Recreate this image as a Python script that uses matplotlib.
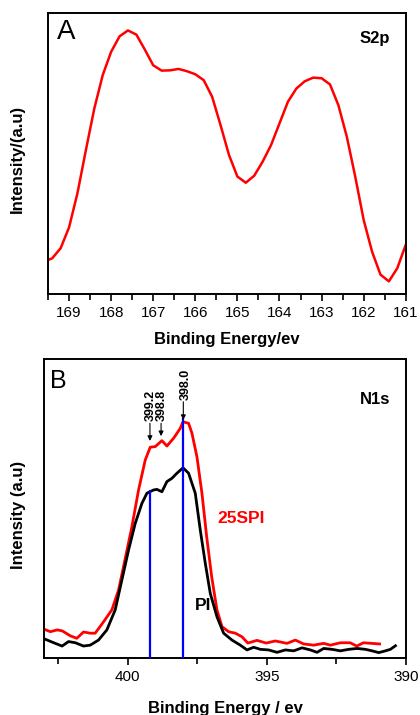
import matplotlib
matplotlib.use("Agg")
import matplotlib.pyplot as plt
from matplotlib.ticker import MultipleLocator

plt.rcParams['font.family'] = ['Liberation Sans', 'DejaVu Sans']

# ---- S2p spectrum ----
s2p_be = [169.6, 169.4, 169.2, 169.0, 168.8, 168.6, 168.4, 168.2, 168.0, 167.8,
          167.6, 167.4, 167.2, 167.0, 166.8, 166.6, 166.4, 166.2, 166.0, 165.8,
          165.6, 165.4, 165.2, 165.0, 164.8, 164.6, 164.4, 164.2, 164.0, 163.8,
          163.6, 163.4, 163.2, 163.0, 162.8, 162.6, 162.4, 162.2, 162.0, 161.8,
          161.6, 161.4, 161.2, 161.0]
s2p_int = [11.5, 12.7, 16.3, 23.7, 35.9, 51.2, 66.0, 77.9, 86.2, 91.7,
           93.8, 92.3, 87.0, 81.4, 79.5, 79.6, 80.1, 79.3, 78.2, 76.1,
           70.2, 60.1, 49.5, 41.8, 39.6, 42.1, 47.1, 53.0, 60.7, 68.4,
           73.1, 75.7, 77.0, 76.8, 74.6, 67.2, 56.0, 41.8, 26.4, 15.1,
           6.9, 4.5, 9.2, 17.5]

# ---- N1s spectra ----
spi_be = [403.0, 402.78, 402.54, 402.36, 402.06, 401.83, 401.59, 401.35, 401.17, 400.87,
          400.57, 400.33, 400.10, 399.85, 399.61, 399.37, 399.19, 399.01, 398.77, 398.59,
          398.35, 398.11, 398.01, 397.81, 397.69, 397.51, 397.33, 397.16, 396.98, 396.79,
          396.61, 396.37, 396.13, 395.89, 395.68, 395.35, 395.02, 394.69, 394.27, 393.97,
          393.67, 393.31, 392.95, 392.71, 392.35, 392.0, 391.76, 391.52, 390.94]
spi_int = [9.6, 8.8, 9.4, 9.1, 7.4, 6.6, 8.7, 8.3, 8.3, 12.1,
           16.1, 22.7, 32.8, 43.9, 56.2, 66.2, 70.5, 70.7, 72.7, 70.9,
           73.5, 76.8, 79.0, 78.5, 75.2, 67.3, 55.1, 40.6, 27.2, 16.1,
           10.5, 8.8, 8.3, 7.1, 5.0, 5.9, 5.0, 5.7, 4.9, 6.0,
           4.7, 4.3, 4.9, 4.3, 5.1, 5.1, 4.0, 5.1, 4.7]

pi_be = [403.0, 402.66, 402.36, 402.13, 401.88, 401.59, 401.35, 401.05, 400.75, 400.45,
         400.21, 399.97, 399.73, 399.49, 399.31, 399.07, 398.95, 398.77, 398.59, 398.41,
         398.23, 398.01, 397.81, 397.57, 397.39, 397.21, 397.03, 396.79, 396.55, 396.25,
         395.95, 395.71, 395.47, 395.23, 394.93, 394.63, 394.33, 394.03, 393.73, 393.43,
         393.19, 392.95, 392.65, 392.35, 392.05, 391.75, 391.45, 391.21, 390.97, 390.73,
         390.55, 390.37]
pi_int = [6.4, 5.1, 4.0, 5.5, 5.1, 4.0, 4.3, 6.0, 9.4, 16.1,
          26.1, 36.1, 45.0, 51.7, 55.1, 56.2, 56.4, 55.6, 59.0, 60.1,
          61.8, 63.6, 61.8, 55.1, 42.8, 31.7, 21.6, 13.8, 8.3, 6.0,
          4.3, 2.7, 3.6, 2.9, 2.7, 1.9, 2.7, 2.4, 3.4, 2.7,
          1.9, 3.2, 2.9, 2.4, 2.9, 3.2, 2.9, 2.4, 1.8, 2.4,
          2.9, 4.1]

# component positions (eV) and guide lines
peak_labels = ["399.2", "398.8", "398.0"]
peak_pos = [399.2, 398.8, 398.0]
arrow_tops = [78.5, 78.5, 85.7]
arrow_heads = [72.6, 74.2, 79.6]
guide_pos = [399.2, 398.0]
guide_top = [56.2, 80.2]

fig = plt.figure(figsize=(4.2, 7.15), dpi=100)
axA = fig.add_axes([0.1143, 0.5888, 0.8517, 0.3930])
axB = fig.add_axes([0.1055, 0.0797, 0.8605, 0.4182])

for ax in (axA, axB):
    for sp in ax.spines.values():
        sp.set_linewidth(1.4)
    ax.set_yticks([])
    ax.tick_params(axis='x', which='both', direction='out', width=1.2,
                   labelsize=11, pad=3.5)
    ax.tick_params(axis='x', which='major', length=5)
    ax.tick_params(axis='x', which='minor', length=4)

# Panel A
axA.plot(s2p_be, s2p_int, color='#ff0000', lw=1.8)
axA.set_xlim(169.5, 161)
axA.set_ylim(0, 100)
axA.xaxis.set_major_locator(MultipleLocator(1))
axA.xaxis.set_minor_locator(MultipleLocator(0.5))
axA.set_xlabel("Binding Energy/ev", fontsize=12, fontweight='bold')
axA.xaxis.set_label_coords(0.5, -0.135)
axA.set_ylabel("Intensity/(a.u)", fontsize=12, fontweight='bold')
axA.yaxis.set_label_coords(-0.066, 0.48)
axA.text(0.025, 0.932, "A", transform=axA.transAxes, fontsize=20,
         ha='left', va='center')
axA.text(0.956, 0.909, "S2p", transform=axA.transAxes, fontsize=12,
         fontweight='bold', ha='right', va='center')

# Panel B
axB.plot(spi_be, spi_int, color='#ff0000', lw=2.0)
axB.plot(pi_be, pi_int, color='black', lw=2.0)
axB.vlines(guide_pos, 0, guide_top, colors='#0000ff', lw=1.6, zorder=3)
for lab, xp, yt, yh in zip(peak_labels, peak_pos, arrow_tops, arrow_heads):
    axB.annotate("", xy=(xp, yh), xytext=(xp, yt),
                 arrowprops=dict(arrowstyle='-|>', color='black', lw=0.8,
                                 mutation_scale=7, shrinkA=0, shrinkB=0))
    axB.text(xp - 0.03 if lab != "398.0" else xp - 0.1, yt + 0.6, lab,
             rotation=90, fontsize=9, fontweight='bold', ha='center', va='bottom')
axB.text(396.78, 46.8, "25SPI", color='#ff0000', fontsize=12.5,
         fontweight='bold', ha='left', va='center')
axB.text(397.58, 17.7, "PI", color='black', fontsize=12.5,
         fontweight='bold', ha='left', va='center')
axB.set_xlim(403, 390)
axB.set_ylim(0, 100)
axB.xaxis.set_major_locator(MultipleLocator(5))
axB.xaxis.set_minor_locator(MultipleLocator(2.5))
axB.set_xlabel("Binding Energy / ev", fontsize=12, fontweight='bold')
axB.xaxis.set_label_coords(0.5, -0.145)
axB.set_ylabel("Intensity (a.u)", fontsize=12, fontweight='bold')
axB.yaxis.set_label_coords(-0.05, 0.478)
axB.text(0.016, 0.928, "B", transform=axB.transAxes, fontsize=18,
         ha='left', va='center')
axB.text(0.957, 0.866, "N1s", transform=axB.transAxes, fontsize=12,
         fontweight='bold', ha='right', va='center')

fig.savefig("out.png", dpi=100)
